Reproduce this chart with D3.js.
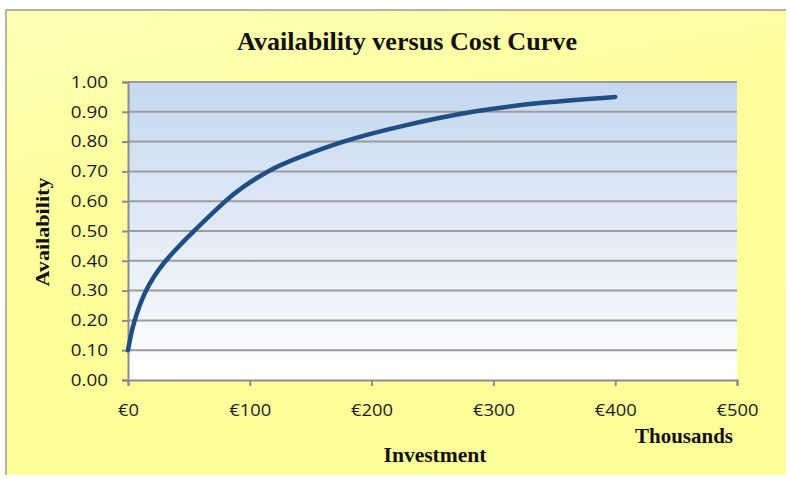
<!DOCTYPE html>
<html><head><meta charset="utf-8">
<script src="https://cdn.jsdelivr.net/npm/d3@7"></script>
<style>body{margin:0;background:#fff;}svg{display:block;}</style>
</head><body>
<svg id="c" width="790" height="479"></svg>
<script>
const investment = [0, 2, 5.5, 14.5, 30, 53.5, 80, 95, 115, 140, 177, 225, 283, 340, 400];
const availability = [0.10, 0.143, 0.20, 0.297, 0.395, 0.497, 0.60, 0.649, 0.70, 0.746, 0.80, 0.852, 0.90, 0.930, 0.95];
const xTicks = [0, 100, 200, 300, 400, 500];
const yTicks = [0, 0.1, 0.2, 0.3, 0.4, 0.5, 0.6, 0.7, 0.8, 0.9, 1.0];
const titleText = "Availability versus Cost Curve";
const xLabel = "Investment";
const yLabel = "Availability";
const unitLabel = "Thousands";

const svg = d3.select("#c");
const defs = svg.append("defs");
const bg = defs.append("linearGradient").attr("id","bg").attr("x1",0).attr("y1",0).attr("x2",0.3).attr("y2",1);
bg.append("stop").attr("offset","0%").attr("stop-color","#ffffb4");
bg.append("stop").attr("offset","40%").attr("stop-color","#ffff9e");
bg.append("stop").attr("offset","100%").attr("stop-color","#ffff99");
const pg = defs.append("linearGradient").attr("id","pg").attr("x1",0).attr("y1",0).attr("x2",0).attr("y2",1);
pg.append("stop").attr("offset","0%").attr("stop-color","#c5d8ef");
pg.append("stop").attr("offset","100%").attr("stop-color","#ffffff");

function fitWidth(sel, w) {
  sel.attr("textLength", w).attr("lengthAdjust", "spacingAndGlyphs");
}
function stretch(sel, f) {
  sel.each(function() {
    const w = this.getComputedTextLength();
    d3.select(this).attr("textLength", w * f).attr("lengthAdjust", "spacingAndGlyphs");
  });
}

// frame shadow + frame
svg.append("rect").attr("x",5).attr("y",9).attr("width",781).attr("height",466).attr("fill","#b4b4a0");
svg.append("rect").attr("x",7).attr("y",11).attr("width",779).attr("height",464).attr("fill","url(#bg)");

const L = 128, R = 737, T = 82, B = 380;
const x = d3.scaleLinear().domain([0, 500]).range([L, R]);
const y = d3.scaleLinear().domain([0, 1]).range([B, T]);

svg.append("rect").attr("x",L).attr("y",T).attr("width",R-L).attr("height",B-T).attr("fill","url(#pg)");

// gridlines
svg.append("g").selectAll("line").data(yTicks.filter(d=>d>0)).join("line")
  .attr("x1",L).attr("x2",R).attr("y1",d=>y(d)).attr("y2",d=>y(d))
  .attr("stroke","#9c9c9c").attr("stroke-width",2);

const sans = "'Open Sans', 'Liberation Sans', sans-serif";
const serif = "'Liberation Serif', 'Times New Roman', serif";

// y axis
const yAxis = svg.append("g").attr("transform",`translate(${L},0)`)
  .call(d3.axisLeft(y).tickValues(yTicks).tickFormat(d3.format(".2f")).tickSize(6).tickPadding(14));
yAxis.select(".domain").attr("stroke","#8c8c8c").attr("stroke-width",2);
yAxis.selectAll(".tick line").attr("stroke","#8c8c8c").attr("stroke-width",2);
yAxis.selectAll("text").attr("font-family",sans).attr("font-size",16.5).attr("fill","#1a1a1a");
stretch(yAxis.selectAll("text"), 1.14);

// x axis
const xAxis = svg.append("g").attr("transform",`translate(0,${B})`)
  .call(d3.axisBottom(x).tickValues(xTicks).tickFormat(d=>"€"+d).tickSize(6).tickPadding(18));
xAxis.select(".domain").attr("stroke","#8c8c8c").attr("stroke-width",2);
xAxis.selectAll(".tick line").attr("stroke","#8c8c8c").attr("stroke-width",2);
xAxis.selectAll("text").attr("font-family",sans).attr("font-size",17).attr("fill","#1a1a1a");
stretch(xAxis.selectAll("text"), 1.08);

// curve
const line = d3.line().x((d,i)=>x(investment[i])).y(d=>y(d)).curve(d3.curveNatural);
svg.append("path").datum(availability).attr("d",line)
  .attr("fill","none").attr("stroke","#1f4e85").attr("stroke-width",4.5).attr("stroke-linecap","round");

// texts
const t1 = svg.append("text").attr("x",407).attr("y",50).attr("text-anchor","middle")
  .attr("font-family",serif).attr("font-weight","bold").attr("font-size",25).attr("fill","#111").text(titleText);
fitWidth(t1, 340);
const t2 = svg.append("text").attr("x",435).attr("y",462).attr("text-anchor","middle")
  .attr("font-family",serif).attr("font-weight","bold").attr("font-size",20).attr("fill","#111").text(xLabel);
fitWidth(t2, 103);
const t3 = svg.append("text").attr("x",733).attr("y",443).attr("text-anchor","end")
  .attr("font-family",serif).attr("font-weight","bold").attr("font-size",21).attr("fill","#111").text(unitLabel);
fitWidth(t3, 98);
const t4 = svg.append("text").attr("transform","translate(49,232) rotate(-90)").attr("text-anchor","middle")
  .attr("font-family",serif).attr("font-weight","bold").attr("font-size",19).attr("fill","#111").text(yLabel);
fitWidth(t4, 109);
</script>
</body></html>
